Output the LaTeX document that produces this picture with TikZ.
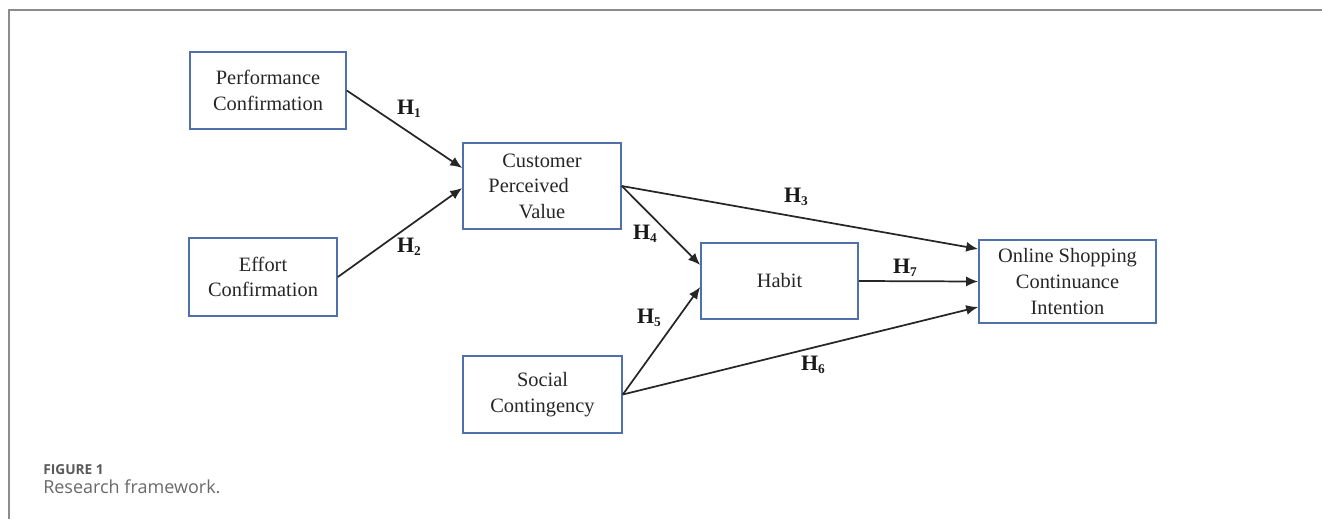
\documentclass[tikz,border=0pt]{standalone}
\usepackage{fontspec}
\setmainfont{Liberation Serif}
\newfontfamily\capfont{Open Sans}
\usepackage{tikz}
\usetikzlibrary{positioning,calc,arrows.meta}
\definecolor{boxblue}{RGB}{79,112,170}
\definecolor{framegray}{RGB}{140,140,140}
\definecolor{capgray}{RGB}{105,105,105}
\newcommand{\Hlab}[1]{\textbf{H\raisebox{-0.3ex}{\fontsize{10}{10}\selectfont #1}}}

\begin{document}
\begin{tikzpicture}[x=0.75pt,y=-0.75pt,
    construct/.style={draw=boxblue, line width=1.2pt, align=center, inner sep=0pt,
        text=black!85, font=\fontsize{15.3}{19.2}\selectfont},
    hyparrow/.style={draw=black!85, line width=1.3pt, -{Latex[length=9pt,width=7.5pt]}},
    hlabel/.style={font=\fontsize{16.5}{16.5}\selectfont, text=black!90, inner sep=0pt}]
    \useasboundingbox (0,0) rectangle (1322,519);

    % outer frame
    \draw[framegray, line width=1.6pt] (9,519) -- (9,10) -- (1322,10);

    % constructs
    \node[construct, minimum width=117pt, minimum height=57.75pt] (perf) at (268,90.5) {Performance\\Confirmation};
    \node[construct, minimum width=111pt, minimum height=58.5pt] (effort) at (263,277) {Effort\\Confirmation};
    \node[construct, minimum width=118.5pt, minimum height=64.5pt] (cpv) at (542,186) {Customer\\\mbox{Perceived\hspace{20pt}}\\Value};
    \node[construct, minimum width=117.75pt, minimum height=57pt] (habit) at (779.5,281) {Habit};
    \node[construct, minimum width=119.25pt, minimum height=57.75pt] (social) at (542.5,394.5) {Social\\Contingency};
    \node[construct, minimum width=132.75pt, minimum height=62.25pt] (online) at (1067.5,281.5) {Online Shopping\\Continuance\\Intention};

    % hypotheses
    \draw[hyparrow] (perf.east) -- ($(cpv.west)+(0,-18)$);
    \draw[hyparrow] (effort.east) -- ($(cpv.west)+(0,2)$);
    \draw[hyparrow] (cpv.east) -- ($(online.west)+(0,-32.5)$);
    \draw[hyparrow] (cpv.east) -- ($(habit.west)+(0,-16)$);
    \draw[hyparrow] (social.east) -- ($(habit.west)+(0,6)$);
    \draw[hyparrow] (social.east) -- ($(online.west)+(0,25.5)$);
    \draw[hyparrow] (habit.east) -- (online.west);

    \node[hlabel] (h1) at (409,109) {\Hlab{1}};
    \node[hlabel] (h2) at (409,247) {\Hlab{2}};
    \node[hlabel] (h3) at (796,197) {\Hlab{3}};
    \node[hlabel] (h4) at (645,234) {\Hlab{4}};
    \node[hlabel] (h5) at (649,318) {\Hlab{5}};
    \node[hlabel] (h6) at (813,365) {\Hlab{6}};
    \node[hlabel] (h7) at (905,268) {\Hlab{7}};

    % caption
    \node[anchor=base west, inner sep=0pt, text=capgray!85!black, font=\capfont\bfseries\fontsize{10.3}{12}\selectfont] (figno) at (43,474) {FIGURE 1};
    \node[anchor=base west, inner sep=0pt, text=capgray, font=\capfont\fontsize{13.5}{16}\selectfont] (figcap) at (43,493) {Research framework.};
\end{tikzpicture}
\end{document}
